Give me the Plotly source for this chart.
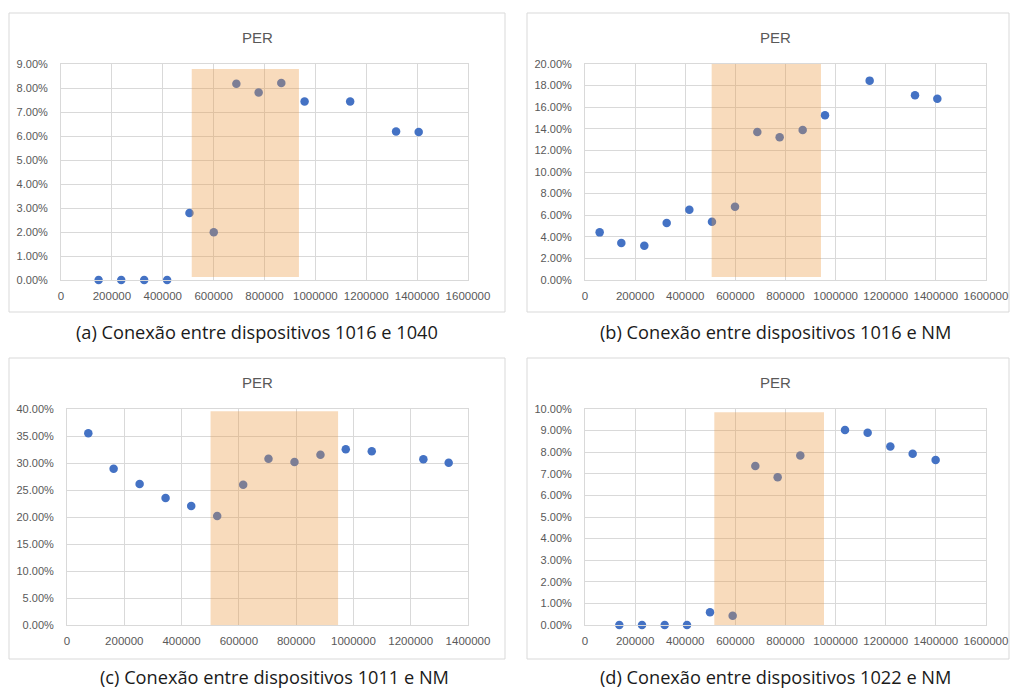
import plotly.graph_objects as go

# ---------------- data ----------------
a_x = [147800, 236800, 327000, 417300, 505000, 600500, 689400, 777000, 866000, 957600, 1136800, 1317300, 1406200]
a_y = [0.0, 0.0, 0.0, 0.0, 0.0279, 0.0199, 0.0818, 0.0781, 0.0821, 0.0744, 0.0744, 0.0619, 0.0617]

b_x = [58500, 145000, 236700, 325900, 416300, 506700, 598500, 687600, 776700, 868500, 957600, 1135800, 1316700, 1405800]
b_y = [0.0441, 0.0343, 0.0318, 0.0528, 0.0651, 0.0540, 0.0679, 0.1370, 0.1321, 0.1389, 0.1525, 0.1846, 0.1710, 0.1679]

c_x = [74400, 162800, 253500, 344200, 433700, 524400, 615100, 703500, 794200, 884900, 973300, 1064000, 1244200, 1332600]
c_y = [0.3549, 0.2895, 0.2611, 0.2352, 0.2204, 0.2019, 0.2599, 0.3080, 0.3019, 0.3154, 0.3253, 0.3216, 0.3068, 0.3006]

d_x = [137000, 227400, 317900, 407000, 498800, 589200, 679600, 768700, 859100, 1037400, 1127800, 1218300, 1307400, 1399100]
d_y = [0.0, 0.0, 0.0, 0.0, 0.0059, 0.0043, 0.0736, 0.0684, 0.0785, 0.0903, 0.0890, 0.0826, 0.0793, 0.0764]

# highlighted band per panel: x start, x end, y bottom, y top
a_band = [514000, 935400, 0.0012, 0.0879]
b_band = [505400, 941600, 0.0028, 0.20]
c_band = [501200, 946500, 0.0, 0.3957]
d_band = [516000, 953600, 0.0, 0.0985]

x_max = [1600000, 1600000, 1400000, 1600000]
y_max = [0.09, 0.20, 0.40, 0.10]
y_step = [0.01, 0.02, 0.05, 0.01]

chart_title = "PER"
captions = [
    "(a) Conexão entre dispositivos 1016 e 1040",
    "(b) Conexão entre dispositivos 1016 e NM",
    "(c) Conexão entre dispositivos 1011 e NM",
    "(d) Conexão entre dispositivos 1022 e NM",
]

# ---------------- layout helpers ----------------
W, H = 1010, 689
def fx(px):
    return px / W
def fy(py):
    return 1 - py / H

# plot areas in pixels: (left, right, top, bottom)
areas = [(61, 468, 64, 280), (585, 986, 64, 280), (67, 468, 409, 625), (585, 986, 409, 625)]
boxes = [(9, 505, 13, 312), (527, 1009, 13, 312), (9, 505, 358, 659), (527, 1009, 358, 659)]
title_pos = [(257, 37), (775, 37), (257, 382), (775, 382)]
caption_pos = [(257, 332), (775, 332), (274, 677), (775, 677)]

xs = [a_x, b_x, c_x, d_x]
ys = [a_y, b_y, c_y, d_y]
bands = [a_band, b_band, c_band, d_band]

BLUE = "#4472C4"
GRID = "#D9D9D9"
TICK = "#595959"
FONT = "Liberation Sans"

fig = go.Figure()
shapes = []
annotations = []
layout = dict(
    width=W, height=H,
    margin=dict(l=0, r=0, t=0, b=0, pad=0),
    paper_bgcolor="white", plot_bgcolor="white",
    showlegend=False,
    font=dict(family=FONT, color=TICK),
)

for i in range(4):
    n = "" if i == 0 else str(i + 1)
    xa = "x" + n
    ya = "y" + n
    fig.add_trace(go.Scatter(
        x=xs[i], y=ys[i], mode="markers", xaxis=xa, yaxis=ya,
        marker=dict(color=BLUE, size=8.5, line=dict(width=0)),
        cliponaxis=False, hoverinfo="skip",
    ))
    l, r, t, b = areas[i]
    layout["xaxis" + n] = dict(
        domain=[fx(l), fx(r)], anchor=ya, range=[0, x_max[i]], dtick=200000,
        tickformat="d", showgrid=True, gridcolor=GRID, gridwidth=1,
        showline=True, linecolor=GRID, mirror=True, zeroline=False,
        ticks="", tickfont=dict(family=FONT, size=11.5, color=TICK),
        ticklabelstandoff=5, fixedrange=True, automargin=False,
    )
    layout["yaxis" + n] = dict(
        domain=[fy(b), fy(t)], anchor=xa, range=[0, y_max[i]], dtick=y_step[i],
        tickformat=".2%", showgrid=True, gridcolor=GRID, gridwidth=1,
        showline=True, linecolor=GRID, mirror=True, zeroline=False,
        ticks="", tickfont=dict(family=FONT, size=11, color=TICK),
        ticklabelstandoff=10, fixedrange=True, automargin=False,
    )
    band = bands[i]
    shapes.append(dict(
        type="rect", xref=xa, yref=ya, x0=band[0], x1=band[1], y0=band[2], y1=band[3],
        fillcolor="rgba(235,150,60,0.34)", line=dict(width=0), layer="above",
    ))
    bl, br, bt, bb = boxes[i]
    shapes.append(dict(
        type="rect", xref="paper", yref="paper", x0=fx(bl), x1=fx(br), y0=fy(bb), y1=fy(bt),
        line=dict(color="#D9D9D9", width=1), fillcolor="rgba(0,0,0,0)", layer="below",
    ))
    tx, ty = title_pos[i]
    annotations.append(dict(
        x=fx(tx), y=fy(ty), xref="paper", yref="paper", text=chart_title, showarrow=False,
        xanchor="center", yanchor="middle", font=dict(family=FONT, size=15, color=TICK),
    ))
    cx, cy = caption_pos[i]
    annotations.append(dict(
        x=fx(cx), y=fy(cy), xref="paper", yref="paper", text=captions[i], showarrow=False,
        xanchor="center", yanchor="middle", font=dict(family="Open Sans", size=18.2, color="#1a1a1a"),
    ))

layout["shapes"] = shapes
layout["annotations"] = annotations
fig.update_layout(**layout)
fig.write_html(
    "out.html",
    config={"displayModeBar": False},
    post_script="document.body.style.margin='0';document.body.style.overflow='hidden';",
)
